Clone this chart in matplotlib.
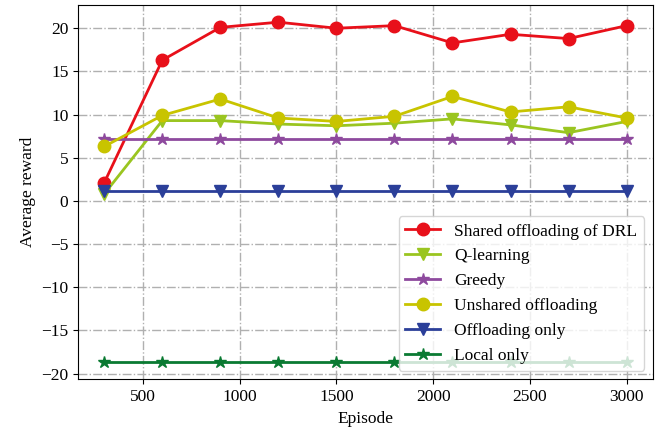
import numpy as np
import matplotlib
matplotlib.use("Agg")
import matplotlib.pyplot as plt

plt.rcParams['font.family'] = ['Liberation Serif', 'DejaVu Serif']
plt.rcParams['mathtext.fontset'] = 'stix'

# data
episodes = [300, 600, 900, 1200, 1500, 1800, 2100, 2400, 2700, 3000]
shared_drl = [2.1, 16.3, 20.1, 20.7, 20.0, 20.3, 18.3, 19.3, 18.8, 20.3]
q_learning = [0.8, 9.3, 9.3, 8.9, 8.7, 9.0, 9.5, 8.8, 7.9, 9.2]
greedy = [7.2, 7.2, 7.2, 7.2, 7.2, 7.2, 7.2, 7.2, 7.2, 7.2]
unshared = [6.3, 9.9, 11.8, 9.6, 9.2, 9.8, 12.1, 10.3, 10.9, 9.6]
offload_only = [1.2, 1.2, 1.2, 1.2, 1.2, 1.2, 1.2, 1.2, 1.2, 1.2]
local_only = [-18.7, -18.7, -18.7, -18.7, -18.7, -18.7, -18.7, -18.7, -18.7, -18.7]

fig, ax = plt.subplots(figsize=(6.62, 4.32), dpi=100)

ax.plot(episodes, shared_drl, color='#e8101a', marker='o', markersize=9, lw=2, label='Shared offloading of DRL')
ax.plot(episodes, q_learning, color='#9ac520', marker='v', markersize=9, lw=2, label='Q-learning')
ax.plot(episodes, greedy, color='#8e4a9e', marker='*', markersize=9, lw=2, label='Greedy')
ax.plot(episodes, unshared, color='#c8c400', marker='o', markersize=9, lw=2, label='Unshared offloading')
ax.plot(episodes, offload_only, color='#2b3f99', marker='v', markersize=9, lw=2, label='Offloading only')
ax.plot(episodes, local_only, color='#0a7a32', marker='*', markersize=9, lw=2, label='Local only')

ax.grid(True, linestyle='-.', color='#b0b0b0', lw=1)
ax.set_xlabel('Episode', fontsize=12.5)
ax.set_ylabel('Average reward', fontsize=12.5)
ax.tick_params(labelsize=12.5)
ax.legend(loc='lower right', fontsize=12.5, handlelength=2)

fig.subplots_adjust(left=0.118, right=0.986, top=0.988, bottom=0.122)
fig.savefig('out.png', dpi=100)
